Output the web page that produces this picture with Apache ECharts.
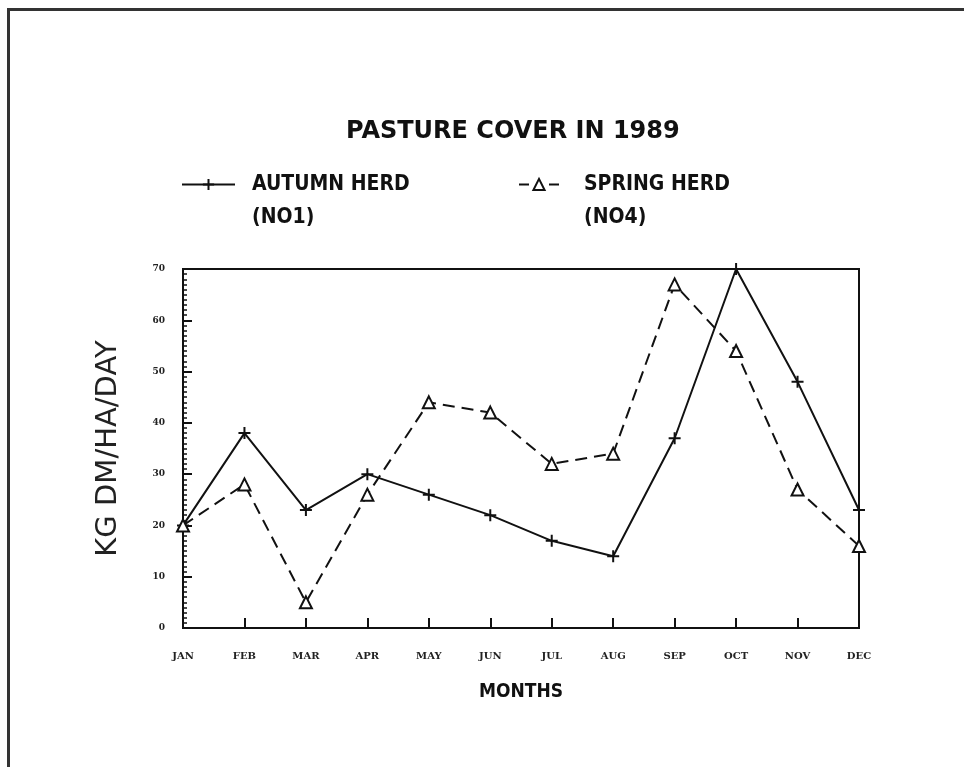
<!DOCTYPE html>
<html><head><meta charset="utf-8">
<script src="https://cdn.jsdelivr.net/npm/echarts@6/dist/echarts.min.js"></script>
<style>html,body{margin:0;padding:0;background:#fff}#c{width:964px;height:767px}</style>
</head><body><div id="c"></div>
<script>
const months = ['JAN','FEB','MAR','APR','MAY','JUN','JUL','AUG','SEP','OCT','NOV','DEC'];
const autumnHerd = [20, 38, 23, 30, 26, 22, 17, 14, 37, 70, 48, 23];
const springHerd = [20, 28, 5, 26, 44, 42, 32, 34, 67, 54, 27, 16];
const seriesNames = ['AUTUMN HERD (NO1)', 'SPRING HERD (NO4)'];
const yTicks = [0, 10, 20, 30, 40, 50, 60, 70];

const ink = '#111';
const chart = echarts.init(document.getElementById('c'), null, {renderer: 'canvas'});
function legendText(padLeft) {
  return {
    fontFamily: 'DejaVu Sans Condensed, DejaVu Sans', fontWeight: 'bold', fontSize: 21, color: ink,
    lineHeight: 33, padding: [0, 0, 0, padLeft]
  };
}
const legendFmt = n => ' \n' + n.replace(' (', '\n(');
chart.setOption({
  backgroundColor: '#fff',
  animation: false,
  title: {
    text: 'PASTURE COVER IN 1989',
    left: 341, top: 115,
    textStyle: {fontFamily: 'DejaVu Sans', fontWeight: 'bold', fontSize: 24, color: ink}
  },
  legend: [
    {data: [seriesNames[0]], left: 181, top: 135, padding: 0, itemWidth: 53, itemHeight: 14,
     formatter: legendFmt, textStyle: legendText(12)},
    {data: [seriesNames[1]], left: 518, top: 135, padding: 0, itemWidth: 40, itemHeight: 14,
     lineStyle: {type: [10, 20]},
     formatter: legendFmt, textStyle: legendText(20)}
  ],
  grid: {left: 183, right: 105, top: 269, bottom: 139, show: true, borderColor: ink, borderWidth: 2, backgroundColor: 'transparent'},
  xAxis: {
    type: 'category', data: months, boundaryGap: false,
    name: 'MONTHS', nameLocation: 'middle', nameGap: 55,
    nameTextStyle: {fontFamily: 'DejaVu Sans Condensed, DejaVu Sans', fontWeight: 'bold', fontSize: 19, color: ink},
    axisLine: {lineStyle: {color: ink, width: 2}},
    axisTick: {inside: true, length: 10, lineStyle: {color: ink, width: 2}},
    axisLabel: {margin: 23, fontFamily: 'DejaVu Serif', fontWeight: 'bold', fontSize: 10, color: '#222'},
    splitLine: {show: false}
  },
  yAxis: {
    type: 'value', min: yTicks[0], max: yTicks[yTicks.length - 1], interval: 10,
    name: 'KG DM/HA/DAY', nameLocation: 'middle', nameGap: 60,
    nameTextStyle: {fontFamily: 'DejaVu Sans', fontWeight: 'normal', fontSize: 29, color: '#222'},
    axisLine: {show: true, lineStyle: {color: ink, width: 2}},
    axisTick: {show: true, inside: true, length: 9, lineStyle: {color: ink, width: 2}},
    minorTick: {show: true, splitNumber: 10, length: 4, lineStyle: {color: ink, width: 1.5}},
    axisLabel: {margin: 18, fontFamily: 'DejaVu Serif', fontWeight: 'bold', fontSize: 9, color: '#222'},
    splitLine: {show: false}, minorSplitLine: {show: false}
  },
  graphic: [{
    type: 'polyline', silent: true,
    shape: {points: [[964, 9.5], [8.5, 9.5], [8.5, 767]]},
    style: {stroke: '#333', lineWidth: 3, fill: null}
  }],
  series: [
    {
      name: seriesNames[0], type: 'line', data: autumnHerd,
      symbol: 'path://M0,-1L0,1M-1,0L1,0', symbolSize: [12, 12],
      color: ink,
      itemStyle: {color: 'none', borderColor: ink, borderWidth: 2},
      lineStyle: {color: ink, width: 2, type: 'solid'}
    },
    {
      name: seriesNames[1], type: 'line', data: springHerd,
      symbol: 'triangle', symbolSize: 12,
      color: ink,
      itemStyle: {color: '#fff', borderColor: ink, borderWidth: 2},
      lineStyle: {color: ink, width: 2, type: [12, 7]}
    }
  ]
});
</script></body></html>
